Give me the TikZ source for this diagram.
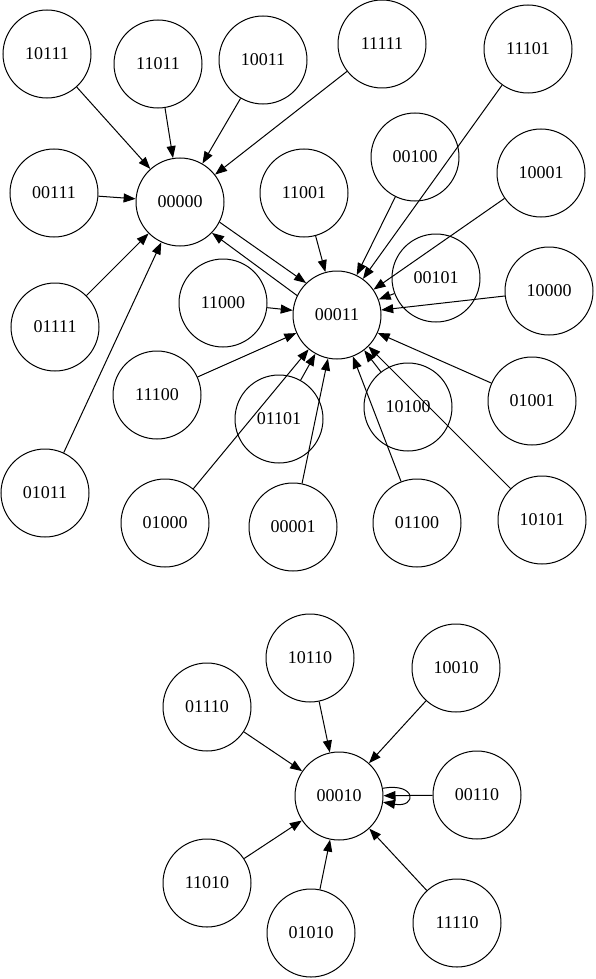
\documentclass[tikz,border=0pt]{standalone}
\usepackage{fontspec}
\setmainfont{Liberation Serif}
\usepackage{tikz}
\usetikzlibrary{arrows.meta, positioning, calc}

\begin{document}
\begin{tikzpicture}[x=1pt, y=1pt]
		\tikzstyle{state}=[draw=black, circle, line width=1pt, minimum size=88pt, inner sep=0pt, font=\fontsize{18}{21}\selectfont]
		\tikzstyle{trans}=[draw=black, line width=1pt, -{Triangle[length=12pt, width=9pt]}]
		
		\useasboundingbox (0,0) rectangle (595,-979);
		
		% first component
		\node (s10111) at (47,-54) [state] {10111};
		\node (s11011) at (158,-64) [state] {11011};
		\node (s10011) at (263,-60) [state] {10011};
		\node (s11111) at (382,-44) [state] {11111};
		\node (s11101) at (528,-49) [state] {11101};
		\node (s00111) at (54,-193) [state] {00111};
		\node (s00000) at (180,-202) [state] {00000};
		\node (s00100) at (415,-157) [state] {00100};
		\node (s10001) at (541,-173) [state] {10001};
		\node (s11001) at (304,-193) [state] {11001};
		\node (s00101) at (436,-278) [state] {00101};
		\node (s10000) at (549,-291) [state] {10000};
		\node (s11000) at (223,-303) [state] {11000};
		\node (s00011) at (337,-315) [state] {00011};
		\node (s01111) at (55,-327) [state] {01111};
		\node (s11100) at (157,-395) [state] {11100};
		\node (s01101) at (279,-419) [state] {01101};
		\node (s10100) at (408,-407) [state] {10100};
		\node (s01001) at (532,-401) [state] {01001};
		\node (s01011) at (45,-493) [state] {01011};
		\node (s01000) at (165,-523) [state] {01000};
		\node (s00001) at (293,-527) [state] {00001};
		\node (s01100) at (417,-523) [state] {01100};
		\node (s10101) at (542,-520) [state] {10101};
		
		\draw[trans] (s10111) -- (s00000);
		\draw[trans] (s11011) -- (s00000);
		\draw[trans] (s10011) -- (s00000);
		\draw[trans] (s11111) -- (s00000);
		\draw[trans] (s00111) -- (s00000);
		\draw[trans] (s01111) -- (s00000);
		\draw[trans] (s01011) -- (s00000);
		\draw[trans] (s00000.-27) -- (s00011.134);
		\draw[trans] (s00011.154) -- (s00000.-44);
		
		\draw[trans] (s11001) -- (s00011);
		\draw[trans] (s00100) -- (s00011);
		\draw[trans] (s11101) -- (s00011);
		\draw[trans] (s10001) -- (s00011);
		\draw[trans] (s00101) -- (s00011);
		\draw[trans] (s10000) -- (s00011);
		\draw[trans] (s11000) -- (s00011);
		\draw[trans] (s11100) -- (s00011);
		\draw[trans] (s01101) -- (s00011);
		\draw[trans] (s01000) -- (s00011);
		\draw[trans] (s00001) -- (s00011);
		\draw[trans] (s01100) -- (s00011);
		\draw[trans] (s10100) -- (s00011);
		\draw[trans] (s10101) -- (s00011);
		\draw[trans] (s01001) -- (s00011);
		
		% second component
		\node (s10110) at (310,-658) [state] {10110};
		\node (s10010) at (456,-668) [state] {10010};
		\node (s01110) at (207,-707) [state] {01110};
		\node (s00010) at (339,-796) [state] {00010};
		\node (s00110) at (477,-795) [state] {00110};
		\node (s11010) at (207,-883) [state] {11010};
		\node (s01010) at (311,-933) [state] {01010};
		\node (s11110) at (457,-923) [state] {11110};
		
		\draw[trans] (s10110) -- (s00010);
		\draw[trans] (s10010) -- (s00010);
		\draw[trans] (s01110) -- (s00010);
		\draw[trans] (s00110) -- (s00010);
		\draw[trans] (s11010) -- (s00010);
		\draw[trans] (s01010) -- (s00010);
		\draw[trans] (s11110) -- (s00010);
		\draw[trans] (s00010.10) .. controls +(34,6) and +(34,-6) .. (s00010.-8);
		
		\end{tikzpicture}
\end{document}
